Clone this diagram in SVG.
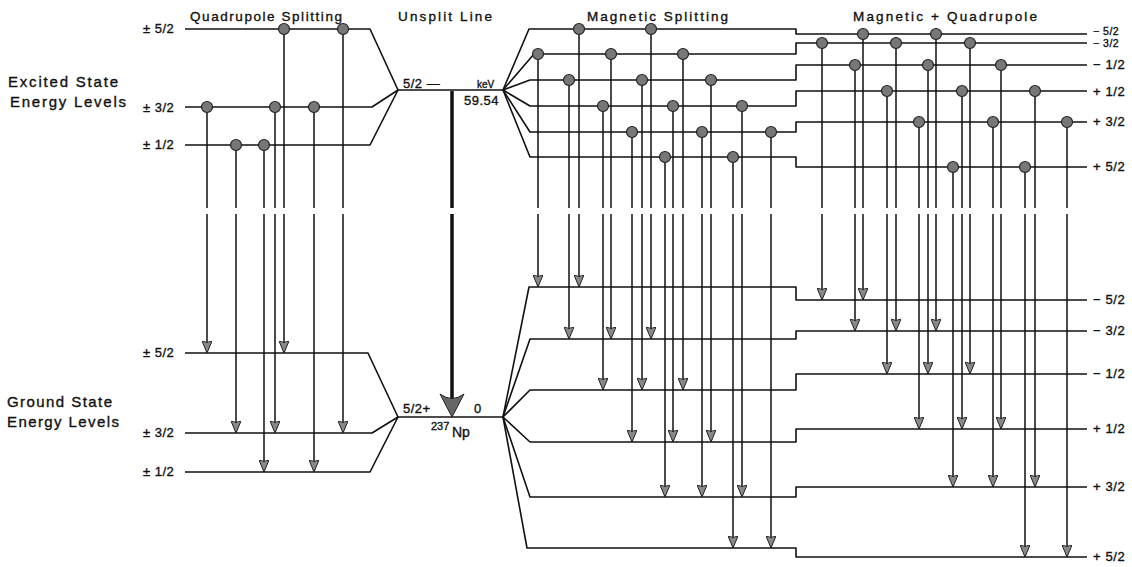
<svg xmlns="http://www.w3.org/2000/svg" width="1132" height="567" viewBox="0 0 1132 567">
<defs>
<style>
text{font-family:"Liberation Sans","DejaVu Sans",Arial,sans-serif;fill:#111;stroke:#111;stroke-width:0.35}
.title{font-size:13.5px}
.state{font-size:15px}
.lab{font-size:13px;letter-spacing:0.5px}
.rlab{font-size:13px;letter-spacing:0.6px}
.lvl{fill:none;stroke:#111;stroke-width:1.6;stroke-linejoin:round}
.tr{fill:none;stroke:#111;stroke-width:1.5;marker-end:url(#ah)}
.dot{fill:#777;stroke:#222;stroke-width:1.2}
</style>
<marker id="ah" viewBox="0 0 12 10" refX="12" refY="5" markerWidth="12" markerHeight="10" markerUnits="userSpaceOnUse" orient="auto">
<path d="M0,0 Q3,5 0,10 L12,5 Z" fill="#888" stroke="#222" stroke-width="1"/>
</marker>
</defs>
<rect width="1132" height="567" fill="#fff"/>

<g id="titles">
<text class="title" x="190" y="21" textLength="152">Quadrupole Splitting</text>
<text class="title" x="398" y="21" textLength="94">Unsplit Line</text>
<text class="title" x="587" y="21" textLength="141">Magnetic Splitting</text>
<text class="title" x="853" y="21" textLength="184">Magnetic + Quadrupole</text>
<text class="state" x="8" y="87" textLength="110">Excited State</text>
<text class="state" x="10" y="107" textLength="116">Energy Levels</text>
<text class="state" x="7" y="407" textLength="105">Ground State</text>
<text class="state" x="7" y="427" textLength="112">Energy Levels</text>
</g>

<g id="quadrupole-levels">
<path class="lvl" d="M185,29 H370 L398,90"/>
<path class="lvl" d="M185,107 H372 L398,90"/>
<path class="lvl" d="M185,145 H370 L398,90"/>
<path class="lvl" d="M185,353 H368 L398,417"/>
<path class="lvl" d="M185,433 H372 L398,417"/>
<path class="lvl" d="M185,472 H370 L398,417"/>
<text class="lab" x="143" y="33">± 5/2</text>
<text class="lab" x="143" y="112">± 3/2</text>
<text class="lab" x="143" y="149">± 1/2</text>
<text class="lab" x="143" y="357">± 5/2</text>
<text class="lab" x="143" y="437">± 3/2</text>
<text class="lab" x="143" y="476">± 1/2</text>
</g>

<g id="unsplit-line">
<path class="lvl" d="M398,90 H503"/>
<path class="lvl" d="M398,417 H503"/>
<text class="lab" x="403" y="88">5/2 —</text>
<text x="477" y="88" font-size="10">keV</text>
<text class="lab" x="464" y="105">59.54</text>
<text class="lab" x="403" y="413">5/2+</text>
<text class="lab" x="474" y="413">0</text>
<text x="431" y="430" font-size="11">237<tspan x="452" y="437" font-size="14">Np</tspan></text>
<path d="M452,91 V208 M452,214 V400" fill="none" stroke="#111" stroke-width="3.5"/>
<path d="M440,394 Q452,403 464,394 L452,417 Z" fill="#666" stroke="#222" stroke-width="1"/>
</g>

<g id="magnetic-levels">
<path class="lvl" d="M503,90 L529,29 H796 V34 H1087"/>
<path class="lvl" d="M503,90 L534,54 H796 V43 H1087"/>
<path class="lvl" d="M503,90 L530,80 H796 V65 H1087"/>
<path class="lvl" d="M503,90 L530,106 H796 V91 H1087"/>
<path class="lvl" d="M503,90 L530,132 H796 V122 H1087"/>
<path class="lvl" d="M503,90 L530,157 H796 V167 H1087"/>
<path class="lvl" d="M503,417 L529,287 H796 V300 H1087"/>
<path class="lvl" d="M503,417 L530,339 H796 V331 H1087"/>
<path class="lvl" d="M503,417 L530,390 H796 V374 H1087"/>
<path class="lvl" d="M503,417 L530,442 H796 V429 H1087"/>
<path class="lvl" d="M503,417 L530,497 H796 V487 H1087"/>
<path class="lvl" d="M503,417 L527,548 H796 V557 H1087"/>
</g>

<g id="mq-labels">
<text x="1093" y="35" font-size="10.5" letter-spacing="0.5">− 5/2</text>
<text x="1093" y="47" font-size="10.5" letter-spacing="0.5">− 3/2</text>
<text class="rlab" x="1093" y="69">− 1/2</text>
<text class="rlab" x="1093" y="96">+ 1/2</text>
<text class="rlab" x="1093" y="126">+ 3/2</text>
<text class="rlab" x="1093" y="171">+ 5/2</text>
<text class="rlab" x="1093" y="304">− 5/2</text>
<text class="rlab" x="1093" y="335">− 3/2</text>
<text class="rlab" x="1093" y="378">− 1/2</text>
<text class="rlab" x="1093" y="433">+ 1/2</text>
<text class="rlab" x="1093" y="491">+ 3/2</text>
<text class="rlab" x="1093" y="561">+ 5/2</text>
</g>

<g id="connectors">
<path class="tr" d="M207,107 V208 M207,214 V353"/>
<path class="tr" d="M236,145 V208 M236,214 V433"/>
<path class="tr" d="M264,145 V208 M264,214 V472"/>
<path class="tr" d="M275,107 V208 M275,214 V433"/>
<path class="tr" d="M284,29 V208 M284,214 V353"/>
<path class="tr" d="M314,107 V208 M314,214 V472"/>
<path class="tr" d="M343,29 V208 M343,214 V433"/>

<path class="tr" d="M538,54 V208 M538,214 V287"/>
<path class="tr" d="M579,29 V208 M579,214 V287"/>
<path class="tr" d="M569,80 V208 M569,214 V339"/>
<path class="tr" d="M611,54 V208 M611,214 V339"/>
<path class="tr" d="M651,29 V208 M651,214 V339"/>
<path class="tr" d="M603,106 V208 M603,214 V390"/>
<path class="tr" d="M642,80 V208 M642,214 V390"/>
<path class="tr" d="M683,54 V208 M683,214 V390"/>
<path class="tr" d="M632,132 V208 M632,214 V442"/>
<path class="tr" d="M673,106 V208 M673,214 V442"/>
<path class="tr" d="M711,80 V208 M711,214 V442"/>
<path class="tr" d="M665,157 V208 M665,214 V497"/>
<path class="tr" d="M702,132 V208 M702,214 V497"/>
<path class="tr" d="M742,106 V208 M742,214 V497"/>
<path class="tr" d="M733,157 V208 M733,214 V548"/>
<path class="tr" d="M771,132 V208 M771,214 V548"/>

<path class="tr" d="M822,43 V208 M822,214 V300"/>
<path class="tr" d="M863,34 V208 M863,214 V300"/>
<path class="tr" d="M855,65 V208 M855,214 V331"/>
<path class="tr" d="M896,43 V208 M896,214 V331"/>
<path class="tr" d="M936,34 V208 M936,214 V331"/>
<path class="tr" d="M887,91 V208 M887,214 V374"/>
<path class="tr" d="M928,65 V208 M928,214 V374"/>
<path class="tr" d="M970,43 V208 M970,214 V374"/>
<path class="tr" d="M919,122 V208 M919,214 V429"/>
<path class="tr" d="M962,91 V208 M962,214 V429"/>
<path class="tr" d="M1001,65 V208 M1001,214 V429"/>
<path class="tr" d="M953,167 V208 M953,214 V487"/>
<path class="tr" d="M993,122 V208 M993,214 V487"/>
<path class="tr" d="M1035,91 V208 M1035,214 V487"/>
<path class="tr" d="M1025,167 V208 M1025,214 V557"/>
<path class="tr" d="M1067,122 V208 M1067,214 V557"/>
</g>

<g id="dots">
<circle class="dot" cx="207" cy="107" r="5.5"/>
<circle class="dot" cx="236" cy="145" r="5.5"/>
<circle class="dot" cx="264" cy="145" r="5.5"/>
<circle class="dot" cx="275" cy="107" r="5.5"/>
<circle class="dot" cx="284" cy="29" r="5.5"/>
<circle class="dot" cx="314" cy="107" r="5.5"/>
<circle class="dot" cx="343" cy="29" r="5.5"/>

<circle class="dot" cx="538" cy="54" r="5.5"/>
<circle class="dot" cx="579" cy="29" r="5.5"/>
<circle class="dot" cx="569" cy="80" r="5.5"/>
<circle class="dot" cx="611" cy="54" r="5.5"/>
<circle class="dot" cx="651" cy="29" r="5.5"/>
<circle class="dot" cx="603" cy="106" r="5.5"/>
<circle class="dot" cx="642" cy="80" r="5.5"/>
<circle class="dot" cx="683" cy="54" r="5.5"/>
<circle class="dot" cx="632" cy="132" r="5.5"/>
<circle class="dot" cx="673" cy="106" r="5.5"/>
<circle class="dot" cx="711" cy="80" r="5.5"/>
<circle class="dot" cx="665" cy="157" r="5.5"/>
<circle class="dot" cx="702" cy="132" r="5.5"/>
<circle class="dot" cx="742" cy="106" r="5.5"/>
<circle class="dot" cx="733" cy="157" r="5.5"/>
<circle class="dot" cx="771" cy="132" r="5.5"/>

<circle class="dot" cx="822" cy="43" r="5.5"/>
<circle class="dot" cx="863" cy="34" r="5.5"/>
<circle class="dot" cx="855" cy="65" r="5.5"/>
<circle class="dot" cx="896" cy="43" r="5.5"/>
<circle class="dot" cx="936" cy="34" r="5.5"/>
<circle class="dot" cx="887" cy="91" r="5.5"/>
<circle class="dot" cx="928" cy="65" r="5.5"/>
<circle class="dot" cx="970" cy="43" r="5.5"/>
<circle class="dot" cx="919" cy="122" r="5.5"/>
<circle class="dot" cx="962" cy="91" r="5.5"/>
<circle class="dot" cx="1001" cy="65" r="5.5"/>
<circle class="dot" cx="953" cy="167" r="5.5"/>
<circle class="dot" cx="993" cy="122" r="5.5"/>
<circle class="dot" cx="1035" cy="91" r="5.5"/>
<circle class="dot" cx="1025" cy="167" r="5.5"/>
<circle class="dot" cx="1067" cy="122" r="5.5"/>
</g>
</svg>
